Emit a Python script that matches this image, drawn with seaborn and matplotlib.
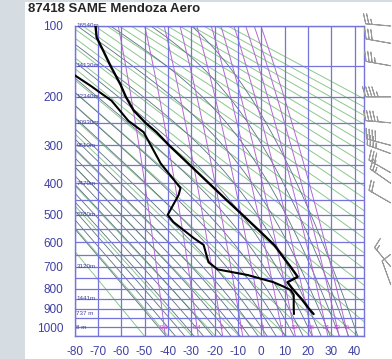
import numpy as np
import pandas as pd
import matplotlib
matplotlib.use('Agg')
import matplotlib.pyplot as plt
from matplotlib.patches import Rectangle
import seaborn as sns

station = '87418 SAME Mendoza Aero'

# temperature profile (hPa, degC)
pres_t = [928, 900, 850, 800, 770, 757, 745, 700, 610, 550, 500, 450, 400,
          350, 300, 270, 250, 225, 200, 179, 150, 130, 113, 100]
temp = [22.4, 20.4, 17.2, 13.3, 11.2, 13.5, 15.6, 12.5, 5.5, -1.6, -8.0, -15.0,
        -22.4, -30.5, -39.5, -44.9, -49.6, -54.7, -58.0, -60.3, -64.6, -67.6, -70.5, -71.0]

# dew point profile
pres_td = [928, 900, 850, 830, 807, 790, 770, 737, 712, 681, 610, 583, 525,
           500, 435, 414, 345, 270, 246, 207, 181, 165, 150]
dwpt = [14.0, 13.9, 13.9, 13.9, 12.6, 9.5, 5.3, -5.8, -18.7, -22.6, -24.7, -29.0,
        -37.6, -40.1, -35.4, -34.6, -43.1, -50.4, -56.9, -64.1, -73.1, -79.6, -85.6]

# winds (hPa, direction deg, speed kt)
wind_p = [100, 120, 150, 200, 250, 300, 320, 370, 400, 460, 700, 780]
wind_dir = [275, 280, 280, 270, 275, 285, 290, 300, 305, 300, 320, 340]
wind_spd = [25, 30, 35, 45, 45, 40, 35, 30, 25, 20, 15, 10]

# standard level heights
hgt_p = [100, 150, 200, 250, 300, 400, 500, 700, 850, 925, 1000]
hgt_lbl = ['16540m', '14130m', '12340m', '10930m', '9610m', '7470m',
           '5780m', '3120m', '1441m', '737 m', '8 m']

# diagram reference lines
isotherms = list(range(-80, 41, 10))
isobars = list(range(100, 1051, 50))
thetas = list(range(220, 501, 10))          # dry adiabats, K
moist_t0 = list(range(-44, 41, 4))          # saturated adiabats, degC at 1000 hPa
mix_ratios = [0.1, 0.4, 1, 2, 4, 7, 10, 16, 24, 32, 40]
xticks = list(range(-80, 41, 10))
yticks = [100, 200, 300, 400, 500, 600, 700, 800, 900, 1000]

KAPPA = 0.286
blue = '#7474da'
lblue = '#4040a4'

sns.set_style('white')
plt.rcParams['font.family'] = ['Liberation Sans', 'DejaVu Sans']

fig = plt.figure(figsize=(3.92, 3.59), dpi=100, facecolor='#d5dce2')
fig.patches.append(Rectangle((25 / 392, 0), 1, 357 / 359, transform=fig.transFigure,
                             facecolor='white', edgecolor='none', zorder=-10))

ax = fig.add_axes([74.5 / 392, 23 / 359, 289.5 / 392, 310 / 359])
ax.set_facecolor('white')
fwd = lambda p: np.power(np.maximum(p, 1e-6), KAPPA)
inv = lambda v: np.power(np.maximum(v, 1e-6), 1 / KAPPA)
ax.set_yscale('function', functions=(fwd, inv))
ax.set_ylim(1050, 100)
ax.set_xlim(-80, 44)

pp = np.linspace(90, 1060, 300)

# dry adiabats
for th in thetas:
    ax.plot(th * (pp / 1000.0) ** KAPPA - 273.15, pp, color='#8cc88c', lw=0.7, zorder=1)


# saturated adiabats
def es(tc):
    return 6.112 * np.exp(17.67 * tc / (tc + 243.5))


def moist(t0):
    Rd, cp, Lv, eps = 287.04, 1005.7, 2.501e6, 0.622
    out_p, out_t = [1000.0], [t0 + 273.15]
    for step in (-1.0, 1.0):
        p, t = 1000.0, t0 + 273.15
        while 95 < p < 1060:
            e = es(t - 273.15)
            rs = eps * e / (p - e)
            dtdp = (Rd * t + Lv * rs) / (p * (cp + Lv ** 2 * rs * eps / (Rd * t ** 2)))
            t += dtdp * step
            p += step
            if step < 0:
                out_p.insert(0, p)
                out_t.insert(0, t)
            else:
                out_p.append(p)
                out_t.append(t)
    return np.array(out_p), np.array(out_t) - 273.15


for t0 in moist_t0:
    mp, mt = moist(t0)
    ax.plot(mt, mp, color='#5c7282', lw=0.6, zorder=1)

# mixing ratio lines
for w in mix_ratios:
    e = w * pp / (622.0 + w)
    a = np.log(e / 6.112)
    td = 243.5 * a / (17.67 - a)
    ax.plot(td, pp, color='#b468d4', lw=0.7, zorder=1)
    e0 = w * 1000 / (622.0 + w)
    a0 = np.log(e0 / 6.112)
    ax.text(243.5 * a0 / (17.67 - a0), 1000, f'{w:g}', color='#d040d0', fontsize=4.5,
            ha='center', va='center', zorder=3)

for t in isotherms:
    ax.axvline(t, color=blue, lw=0.9, zorder=2)
for p in isobars:
    ax.axhline(p, color=blue, lw=0.9, zorder=2)

for p, s in zip(hgt_p, hgt_lbl):
    ax.text(-79.2, p, s, color=lblue, fontsize=4.5, ha='left', va='center', zorder=3)

# sounding
snd_t = pd.DataFrame({'T': temp, 'p': pres_t})
snd_d = pd.DataFrame({'T': dwpt, 'p': pres_td})
sns.lineplot(data=snd_t, x='T', y='p', sort=False, estimator=None, color='black', lw=1.7, ax=ax, zorder=4)
sns.lineplot(data=snd_d, x='T', y='p', sort=False, estimator=None, color='black', lw=1.5, ax=ax, zorder=4)
ax.set_ylim(1050, 100)
ax.set_xlim(-80, 44)

ax.set_xticks(xticks)
ax.set_xticklabels([str(v) for v in xticks])
ax.set_yticks(yticks)
ax.set_yticklabels([str(v) for v in yticks])
ax.minorticks_off()
ax.tick_params(axis='both', length=0, colors=lblue, labelsize=8.5)
ax.tick_params(axis='y', pad=8)
ax.tick_params(axis='x', pad=7)
ax.set_xlabel('')
ax.set_ylabel('')
for sp in ax.spines.values():
    sp.set_color(blue)
    sp.set_linewidth(1.0)

# wind barbs
bax = fig.add_axes([365 / 392, 23 / 359, 27 / 392, 310 / 359])
bax.set_yscale('function', functions=(fwd, inv))
bax.set_ylim(1050, 100)
bax.set_xlim(0, 1)
bax.axis('off')
d = np.radians(wind_dir)
u = -np.array(wind_spd) * np.sin(d)
v = -np.array(wind_spd) * np.cos(d)
bax.barbs(np.full(len(wind_p), 0.95), wind_p, u, v, length=6, color='#9a9a9a',
          linewidth=0.7, clip_on=False)

fig.text(28 / 392, 1 - 9 / 359, station, fontsize=9.5, fontweight='bold', ha='left', va='center')

fig.savefig('out.png', dpi=100, facecolor=fig.get_facecolor())
